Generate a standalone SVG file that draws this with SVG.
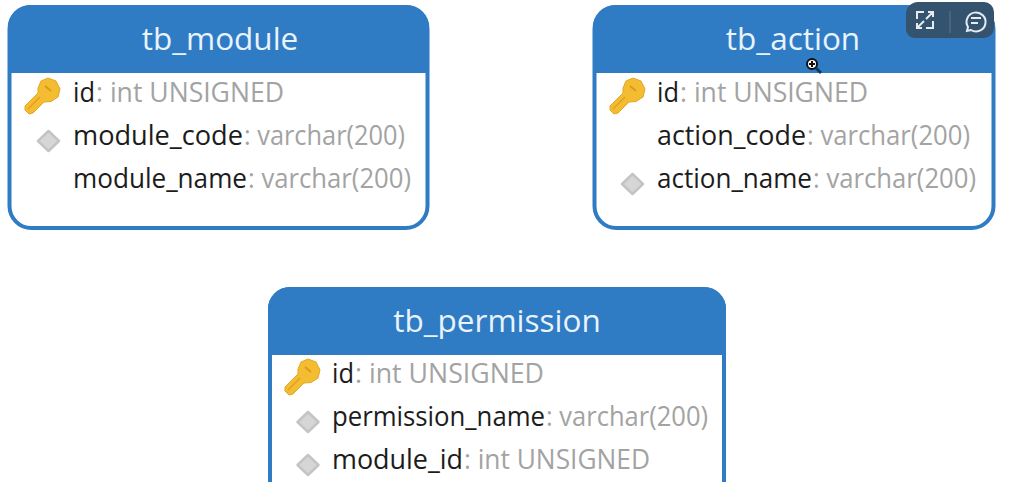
<svg xmlns="http://www.w3.org/2000/svg" width="1031" height="482" viewBox="0 0 1031 482">
<style>
text{font-family:"Open Sans","Noto Sans","Liberation Sans",sans-serif}
.box{fill:#fff;stroke:#2f7bc4;stroke-width:4}
.hd{fill:#2f7bc4}
.title{font-size:31.500px;fill:#e8f3fb;text-anchor:middle}
.f{font-size:26.500px;fill:#1c1c1c}
.f tspan{fill:#a3a3a3}
.ui{fill:none;stroke:#e4ebf1;stroke-width:2}
</style>
<defs>
<g id="key"><path d="M-17 14L-13 18L-9 17L2 6L9 5.500L16 1L18 -7L14 -15L6 -18L-1 -15L-4 -8L-4 -3L-17 10Z" fill="#f4bc30" stroke="#e3a722" stroke-width="1"/><path d="M3 -10L9 -5" stroke="#d99a1c" stroke-width="2" fill="none"/><path d="M-14 13L-2 1" stroke="#e0a020" stroke-width="1.500" fill="none"/></g>
<path id="dia" d="M0 -10L10.500 0L0 10L-10.500 0Z" fill="#d6d6d6" stroke="#c4c4c4" stroke-width="2.500" stroke-linejoin="round"/>
</defs>
<rect width="1031" height="482" fill="#fff"/>
<g id="connectors"/>
<g id="tb_module">
<rect class="box" x="9.500" y="7" width="418" height="221" rx="22"/>
<path class="hd" d="M8 73V27A22 22 0 0 1 30 5H407A22 22 0 0 1 429 27V73Z"/>
<text class="title" x="220" y="50">tb_module</text>
<use href="#key" x="42" y="96"/>
<text class="f" x="73" y="102" textLength="22" lengthAdjust="spacingAndGlyphs">id</text><text class="f"><tspan x="96" y="102" textLength="188" lengthAdjust="spacingAndGlyphs">: int UNSIGNED</tspan></text>
<use href="#dia" x="48.500" y="141"/>
<text class="f" x="73" y="145" textLength="170" lengthAdjust="spacingAndGlyphs">module_code</text><text class="f"><tspan x="244" y="145" textLength="161" lengthAdjust="spacingAndGlyphs">: varchar(200)</tspan></text>
<text class="f" x="73" y="188" textLength="174" lengthAdjust="spacingAndGlyphs">module_name</text><text class="f"><tspan x="248" y="188" textLength="163" lengthAdjust="spacingAndGlyphs">: varchar(200)</tspan></text>
</g>
<g id="tb_action">
<rect class="box" x="594.500" y="7" width="399" height="221" rx="22"/>
<path class="hd" d="M593 73V27A22 22 0 0 1 615 5H973A22 22 0 0 1 995 27V73Z"/>
<text class="title" x="793" y="50">tb_action</text>
<use href="#key" x="627" y="96"/>
<text class="f" x="657" y="102" textLength="22" lengthAdjust="spacingAndGlyphs">id</text><text class="f"><tspan x="680" y="102" textLength="188" lengthAdjust="spacingAndGlyphs">: int UNSIGNED</tspan></text>
<text class="f" x="657" y="145" textLength="149" lengthAdjust="spacingAndGlyphs">action_code</text><text class="f"><tspan x="807" y="145" textLength="163" lengthAdjust="spacingAndGlyphs">: varchar(200)</tspan></text>
<use href="#dia" x="632.500" y="184"/>
<text class="f" x="657" y="188" textLength="155" lengthAdjust="spacingAndGlyphs">action_name</text><text class="f"><tspan x="813" y="188" textLength="163" lengthAdjust="spacingAndGlyphs">: varchar(200)</tspan></text>
</g>
<g id="tb_permission">
<path class="box" d="M270 490V309A20 20 0 0 1 290 289H704A20 20 0 0 1 724 309V490"/>
<path class="hd" d="M268 355V309A22 22 0 0 1 290 287H704A22 22 0 0 1 726 309V355Z"/>
<text class="title" x="497" y="332">tb_permission</text>
<use href="#key" x="302" y="377"/>
<text class="f" x="332" y="383" textLength="22" lengthAdjust="spacingAndGlyphs">id</text><text class="f"><tspan x="355" y="383" textLength="189" lengthAdjust="spacingAndGlyphs">: int UNSIGNED</tspan></text>
<use href="#dia" x="308" y="422"/>
<text class="f" x="332" y="426" textLength="213" lengthAdjust="spacingAndGlyphs">permission_name</text><text class="f"><tspan x="546" y="426" textLength="162" lengthAdjust="spacingAndGlyphs">: varchar(200)</tspan></text>
<use href="#dia" x="308" y="465"/>
<text class="f" x="332" y="469" textLength="131" lengthAdjust="spacingAndGlyphs">module_id</text><text class="f"><tspan x="464" y="469" textLength="186" lengthAdjust="spacingAndGlyphs">: int UNSIGNED</tspan></text>
</g>
<g id="overlay">
<path d="M906 30V14A12 12 0 0 1 918 2H984A10 10 0 0 1 994 12V28A10 10 0 0 1 984 38H915A9 9 0 0 1 906 30Z" fill="#34536f"/>
<path class="ui" d="M917 19V12H924M933 21V28H926M933 12L926 19M928 12H933V17M917 28L924 21M917 23V28H922"/>
<path d="M950 11V33" stroke="#4f6a83" stroke-width="1.500"/>
<path class="ui" d="M971 30L967 31L968 27A9.500 9.500 0 1 1 971 30ZM971 18H981M971 23H978"/>
<circle cx="812" cy="64" r="5" fill="#fff" stroke="#111" stroke-width="2"/>
<path d="M809 64H815M812 61V67" stroke="#111" stroke-width="2"/>
<path d="M816 68L821 73" stroke="#123a5c" stroke-width="3"/>
</g>
</svg>
